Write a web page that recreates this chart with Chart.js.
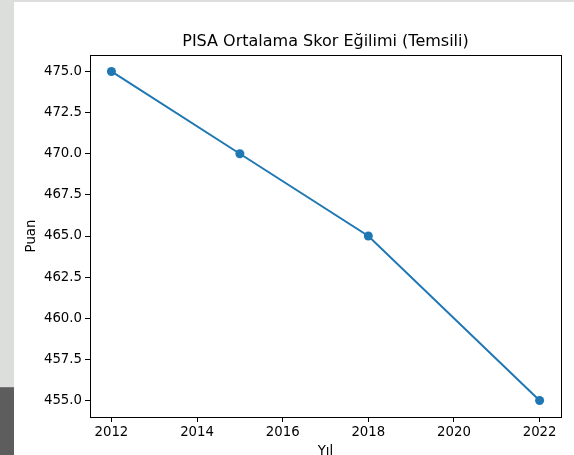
<!DOCTYPE html>
<html>
<head>
<meta charset="utf-8">
<script src="https://cdn.jsdelivr.net/npm/chart.js@4.4.1/dist/chart.umd.min.js"></script>
<style>
    html, body {
        margin: 0;
        padding: 0;
        width: 574px;
        height: 455px;
        overflow: hidden;
        background: #ffffff;
    }
    /* screenshot edges around the figure */
    .strip-top { position: absolute; left: 0; top: 0; width: 574px; height: 2px; background: #dcdedc; }
    .strip-left { position: absolute; left: 0; top: 0; width: 14px; height: 387px; background: #dcdedc; }
    .strip-dark { position: absolute; left: 0; top: 387px; width: 14px; height: 68px; background: #5d5d5d; border-top: 1px solid #777; }
    #wrap { position: absolute; left: 0; top: 0; width: 574px; height: 460px; }
</style>
</head>
<body>
<div id="wrap"><canvas id="chart"></canvas></div>
<div class="strip-top"></div>
<div class="strip-left"></div>
<div class="strip-dark"></div>

<script>
// PISA score trend (illustrative)

const years = [2012, 2015, 2018, 2022];
const scores = [475, 470, 465, 455];
const xTicks = [2012, 2014, 2016, 2018, 2020, 2022];
const yTicks = [455, 457.5, 460, 462.5, 465, 467.5, 470, 472.5, 475];
const chartTitle = 'PISA Ortalama Skor Eğilimi (Temsili)';

const FONT = "'DejaVu Sans', sans-serif";
const BLUE = '#1f77b4';

// Draw the full box around the plot area, and the title centred over it
const framePlugin = {
    id: 'frame',
    afterDraw(chart) {
        const a = chart.chartArea;
        const ctx = chart.ctx;
        ctx.save();
        ctx.strokeStyle = '#000';
        ctx.lineWidth = 1;
        ctx.strokeRect(Math.round(a.left) + 0.5, Math.round(a.top) + 0.5,
            Math.round(a.right - a.left), Math.round(a.bottom - a.top));

        ctx.fillStyle = '#000';
        ctx.font = '16px ' + FONT;
        ctx.textAlign = 'center';
        ctx.textBaseline = 'alphabetic';
        ctx.fillText(chartTitle, (a.left + a.right) / 2, a.top - 9);
        ctx.restore();
    }
};

const ctx = document.getElementById('chart');

new Chart(ctx, {
    type: 'line',
    data: {
        datasets: [{
            data: years.map((y, i) => ({ x: y, y: scores[i] })),
            borderColor: BLUE,
            backgroundColor: BLUE,
            borderWidth: 2,
            pointRadius: 4.5,
            pointHoverRadius: 4.5,
            pointBackgroundColor: BLUE,
            pointBorderWidth: 0,
            tension: 0,
            fill: false
        }]
    },
    options: {
        responsive: true,
        maintainAspectRatio: false,
        animation: false,
        layout: {
            padding: { left: 20, right: 13, top: 55, bottom: 0 }
        },
        plugins: {
            legend: { display: false },
            tooltip: { enabled: false },
            title: { display: false }
        },
        scales: {
            x: {
                type: 'linear',
                min: 2011.5,
                max: 2022.5,
                afterBuildTicks: (scale) => {
                    scale.ticks = xTicks.map(v => ({ value: v }));
                },
                afterFit: (scale) => { scale.height = 43; },
                grid: {
                    drawOnChartArea: false,
                    drawTicks: true,
                    tickLength: 5,
                    color: '#000'
                },
                border: { display: false },
                ticks: {
                    color: '#000',
                    padding: 3,
                    maxRotation: 0,
                    font: { family: FONT, size: 13.3 },
                    callback: (v) => String(v)
                },
                title: {
                    display: true,
                    text: 'Yıl',
                    color: '#000',
                    font: { family: FONT, size: 13.3 },
                    padding: { top: 0, bottom: 0 }
                }
            },
            y: {
                type: 'linear',
                min: 454,
                max: 476,
                afterBuildTicks: (scale) => {
                    scale.ticks = yTicks.map(v => ({ value: v }));
                },
                afterFit: (scale) => { scale.width = 70; },
                grid: {
                    drawOnChartArea: false,
                    drawTicks: true,
                    tickLength: 5,
                    color: '#000'
                },
                border: { display: false },
                ticks: {
                    color: '#000',
                    padding: 3,
                    font: { family: FONT, size: 13.3 },
                    callback: (v) => Number(v).toFixed(1)
                },
                title: {
                    display: true,
                    text: 'Puan',
                    color: '#000',
                    font: { family: FONT, size: 13.3 },
                    padding: { top: 4, bottom: 0 }
                }
            }
        }
    },
    plugins: [framePlugin]
});
</script>
</body>
</html>
